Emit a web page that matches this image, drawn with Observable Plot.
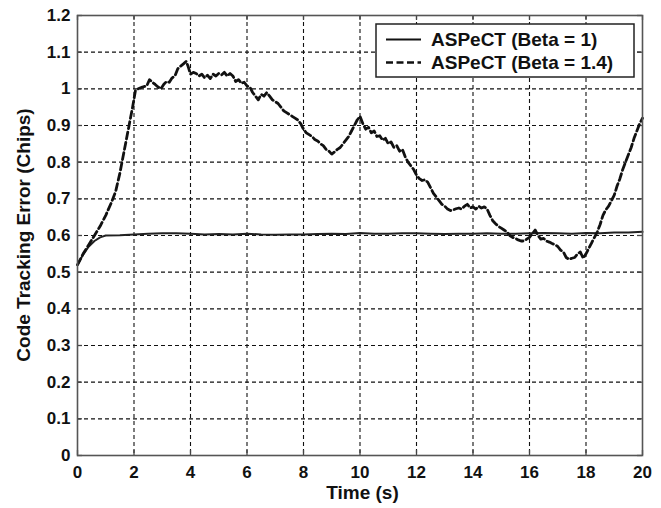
<!DOCTYPE html>
<html><head><meta charset="utf-8">
<script src="https://cdn.jsdelivr.net/npm/d3@7"></script>
<script src="https://cdn.jsdelivr.net/npm/@observablehq/plot@0.6"></script>
<style>body{margin:0;background:#fff} svg{display:block}</style>
</head><body><div id="chart"></div>
<script>
const xTicks = [0,2,4,6,8,10,12,14,16,18,20];
const yTicks = [0,0.1,0.2,0.3,0.4,0.5,0.6,0.7,0.8,0.9,1.0,1.1,1.2];
const seriesNames = ["ASPeCT (Beta = 1)", "ASPeCT (Beta = 1.4)"];
const xLabel = "Time (s)";
const yLabel = "Code Tracking Error (Chips)";

const tSolid = [0,0.2,0.4,0.6,0.8,1.0,1.5,2,2.5,3,3.5,4,4.5,5,5.5,6,6.5,7,7.5,8,8.5,9,9.5,10,10.5,11,11.5,12,12.5,13,13.5,14,14.5,15,15.5,16,16.5,17,17.5,18,18.5,19,19.5,20];
const vSolid = [0.52,0.548,0.57,0.585,0.595,0.6,0.601,0.603,0.605,0.606,0.606,0.605,0.603,0.604,0.603,0.605,0.603,0.602,0.603,0.603,0.604,0.605,0.604,0.607,0.605,0.605,0.606,0.606,0.605,0.604,0.605,0.605,0.606,0.605,0.605,0.606,0.607,0.606,0.605,0.607,0.606,0.608,0.608,0.61];

const tDashed = [0,0.2,0.4,0.6,0.8,1.0,1.2,1.35,1.5,1.65,1.8,1.95,2.05,2.15,2.3,2.45,2.55,2.65,2.75,2.85,2.95,3.05,3.15,3.25,3.35,3.45,3.55,3.65,3.75,3.85,3.92,4.0,4.1,4.2,4.3,4.4,4.5,4.6,4.7,4.8,4.9,5.0,5.1,5.2,5.3,5.4,5.5,5.6,5.7,5.8,5.9,6.0,6.1,6.2,6.3,6.4,6.5,6.6,6.7,6.8,6.9,7.0,7.1,7.2,7.3,7.4,7.5,7.6,7.7,7.8,7.9,8.0,8.1,8.2,8.3,8.4,8.5,8.6,8.7,8.8,8.9,9.0,9.1,9.2,9.3,9.4,9.5,9.6,9.7,9.8,9.9,10.0,10.1,10.2,10.3,10.4,10.5,10.6,10.7,10.8,10.9,11.0,11.1,11.2,11.3,11.4,11.5,11.6,11.7,11.8,11.9,12.0,12.1,12.2,12.3,12.4,12.5,12.6,12.7,12.8,12.9,13.0,13.1,13.2,13.3,13.4,13.5,13.6,13.7,13.8,13.9,14.0,14.1,14.2,14.3,14.4,14.5,14.6,14.7,14.8,14.9,15.0,15.1,15.2,15.3,15.4,15.5,15.6,15.7,15.8,15.9,16.0,16.1,16.2,16.3,16.4,16.5,16.6,16.7,16.8,16.9,17.0,17.1,17.2,17.3,17.4,17.5,17.6,17.7,17.8,17.9,18.0,18.1,18.2,18.3,18.4,18.5,18.6,18.7,18.8,18.9,19.0,19.1,19.2,19.3,19.4,19.5,19.6,19.7,19.8,19.9,20.0];
const vDashed = [0.52,0.55,0.575,0.6,0.625,0.655,0.69,0.72,0.77,0.83,0.89,0.95,0.995,1.0,1.005,1.008,1.025,1.018,1.012,1.005,1.0,1.012,1.02,1.018,1.03,1.035,1.055,1.062,1.068,1.075,1.06,1.04,1.045,1.042,1.035,1.04,1.03,1.037,1.028,1.04,1.035,1.042,1.038,1.045,1.035,1.042,1.035,1.02,1.025,1.015,1.018,1.008,1.005,0.99,0.98,0.97,0.985,0.98,0.99,0.98,0.97,0.965,0.96,0.95,0.94,0.935,0.93,0.925,0.92,0.915,0.905,0.89,0.88,0.875,0.87,0.862,0.858,0.85,0.845,0.835,0.83,0.822,0.828,0.835,0.84,0.85,0.86,0.87,0.885,0.9,0.915,0.925,0.905,0.89,0.895,0.88,0.885,0.87,0.872,0.86,0.865,0.85,0.855,0.84,0.845,0.83,0.835,0.815,0.8,0.79,0.78,0.765,0.755,0.75,0.752,0.745,0.73,0.715,0.705,0.695,0.685,0.68,0.672,0.668,0.67,0.673,0.675,0.672,0.68,0.685,0.675,0.678,0.672,0.68,0.675,0.678,0.672,0.655,0.64,0.632,0.625,0.62,0.615,0.61,0.6,0.595,0.592,0.588,0.585,0.585,0.59,0.595,0.605,0.615,0.6,0.59,0.592,0.585,0.582,0.578,0.575,0.57,0.56,0.555,0.54,0.535,0.538,0.54,0.55,0.555,0.538,0.55,0.565,0.58,0.595,0.61,0.63,0.655,0.67,0.68,0.695,0.71,0.735,0.755,0.78,0.8,0.82,0.84,0.865,0.885,0.905,0.92];

const W = 661, H = 508, mL = 77, mR = 19, mT = 15, mB = 53;
const pw = W - mL - mR, ph = H - mT - mB;
const FONT = "'Liberation Sans', Arial, Helvetica, sans-serif";

const solid = tSolid.map((t, i) => ({t, v: vSolid[i]}));
const dashed = tDashed.map((t, i) => ({t, v: vDashed[i]}));

const gridStyle = {stroke: "#111", strokeOpacity: 1, strokeWidth: 1.1, strokeDasharray: "4,3"};
const tickStyle = {stroke: "#444", strokeWidth: 1.3};

const chart = Plot.plot({
  width: W, height: H,
  marginLeft: mL, marginRight: mR, marginTop: mT, marginBottom: mB,
  style: {fontFamily: FONT, fontWeight: "bold", background: "#fff", color: "#111"},
  x: {domain: [0, 20]},
  y: {domain: [0, 1.2]},
  marks: [
    Plot.gridX(xTicks.slice(1, -1), gridStyle),
    Plot.gridY(yTicks.slice(1, -1), gridStyle),
    Plot.tickX(xTicks, {x: d => d, insetTop: ph - 5, ...tickStyle}),
    Plot.tickX(xTicks, {x: d => d, insetBottom: ph - 5, ...tickStyle}),
    Plot.tickY(yTicks, {y: d => d, insetRight: pw - 5, ...tickStyle}),
    Plot.tickY(yTicks, {y: d => d, insetLeft: pw - 5, ...tickStyle}),
    Plot.line(solid, {x: "t", y: "v", stroke: "#222", strokeWidth: 2}),
    Plot.line(dashed, {x: "t", y: "v", stroke: "#111", strokeWidth: 2.8, strokeDasharray: "7,3.5"}),
    Plot.frame({stroke: "#555", strokeWidth: 1.6}),
    Plot.axisX(xTicks, {tickSize: 0, tickPadding: 10, fontSize: 17, label: null, fill: "#111"}),
    Plot.axisY(yTicks, {tickSize: 0, tickPadding: 7, fontSize: 17, label: null, fill: "#111",
      tickFormat: d => String(+d.toFixed(1))})
  ]
});

const svg = d3.select(chart);
// axis titles
svg.append("text").attr("x", mL + pw / 2 + 3).attr("y", 499)
  .attr("text-anchor", "middle").attr("font-size", 19).attr("font-weight", "bold")
  .attr("font-family", FONT).attr("fill", "#111").text(xLabel);
svg.append("text").attr("transform", `translate(23,${mT + ph / 2}) rotate(-90)`)
  .attr("text-anchor", "middle").attr("dy", "0.35em").attr("font-size", 19).attr("font-weight", "bold")
  .attr("font-family", FONT).attr("fill", "#111").text(yLabel);

// legend
const lg = svg.append("g").attr("font-family", FONT).attr("font-weight", "bold").attr("font-size", 19)
  .attr("text-anchor", "start");
lg.append("rect").attr("x", 376).attr("y", 24).attr("width", 258).attr("height", 53)
  .attr("fill", "#fff").attr("stroke", "#222").attr("stroke-width", 1.5);
const rows = [{y: 39.5, dash: null, w: 2}, {y: 62.5, dash: "7,3.5", w: 2.6}];
rows.forEach((r, i) => {
  lg.append("line").attr("x1", 386).attr("x2", 421).attr("y1", r.y).attr("y2", r.y)
    .attr("stroke", "#111").attr("stroke-width", r.w).attr("stroke-dasharray", r.dash);
  lg.append("text").attr("x", 431).attr("y", r.y).attr("dy", "0.36em").attr("text-anchor", "start")
    .attr("fill", "#111").text(seriesNames[i]);
});

document.getElementById("chart").appendChild(chart);
</script>
</body></html>
